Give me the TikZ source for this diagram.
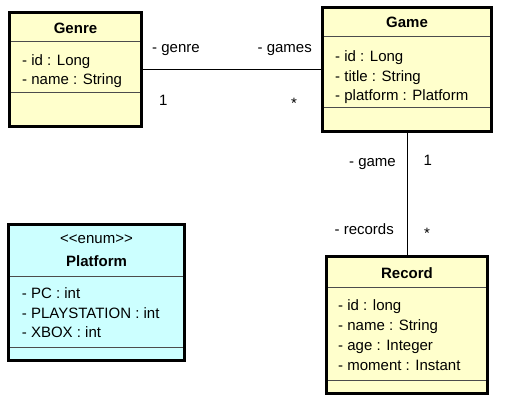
\documentclass[tikz,border=0pt]{standalone}
\usepackage{fontspec}
\setmainfont{Liberation Sans}
\definecolor{classyellow}{HTML}{FFFFCC}
\definecolor{enumcyan}{HTML}{CCFFFF}
\tikzset{
  classbox/.style={draw, line width=3pt, inner sep=0pt},
  sepline/.style={line width=1pt, black!70},
  attr/.style={anchor=base west, inner sep=0pt, font=\fontsize{15}{18}\selectfont},
  cname/.style={anchor=base, inner sep=0pt, font=\bfseries\fontsize{15}{18}\selectfont},
  rolel/.style={anchor=base east, inner sep=0pt, font=\fontsize{15}{18}\selectfont},
  roler/.style={anchor=base west, inner sep=0pt, font=\fontsize{15}{18}\selectfont},
  assoc/.style={line width=1pt},
}
\begin{document}
\begin{tikzpicture}[x=1pt,y=-1pt]
    \useasboundingbox (0,0) rectangle (505,406);
    % classes
    \node [classbox, fill=classyellow, minimum width=132pt, minimum height=114pt] (genre) at (75.5,69.5) {};
    \node [classbox, fill=classyellow, minimum width=169pt, minimum height=124pt] (game) at (407,69.5) {};
    \node [classbox, fill=classyellow, minimum width=161pt, minimum height=137pt] (record) at (407,325) {};
    \node [classbox, fill=enumcyan, minimum width=176pt, minimum height=136.5pt] (platform) at (96.5,292.25) {};
    % compartments
    \draw [sepline] (11,42) -- (140,42);
    \draw [sepline] (11,93) -- (140,93);
    \draw [sepline] (324,37) -- (490,37);
    \draw [sepline] (324,108) -- (490,108);
    \draw [sepline] (328,287) -- (486,287);
    \draw [sepline] (328,380) -- (486,380);
    \draw [sepline] (10,276) -- (183,276);
    \draw [sepline] (10,347) -- (183,347);
    % redraw borders on top
    \draw [line width=3pt] (genre.north west) ++(1.5,1.5) rectangle ([xshift=-1.5pt,yshift=1.5pt]genre.south east);
    \draw [line width=3pt] (game.north west) ++(1.5,1.5) rectangle ([xshift=-1.5pt,yshift=1.5pt]game.south east);
    \draw [line width=3pt] (record.north west) ++(1.5,1.5) rectangle ([xshift=-1.5pt,yshift=1.5pt]record.south east);
    \draw [line width=3pt] (platform.north west) ++(1.5,1.5) rectangle ([xshift=-1.5pt,yshift=1.5pt]platform.south east);
    % Genre
    \node [cname] (genretitle) at (75.5,33.5) {Genre};
    \node [attr] (genreid) at (22,65.5) {- id : Long};
    \node [attr] (genrename) at (22,84.5) {- name : String};
    % Game
    \node [cname] (gametitle) at (407,27.5) {Game};
    \node [attr] (gameid) at (335,61.5) {- id : Long};
    \node [attr] (gametitle) at (335,81.5) {- title : String};
    \node [attr] (gameplatform) at (335,101) {- platform : Platform};
    % Record
    \node [cname] (recordtitle) at (407,278.3) {Record};
    \node [attr] (recordid) at (338,310.7) {- id : long};
    \node [attr] (recordname) at (338,330.5) {- name : String};
    \node [attr] (recordage) at (338,350.3) {- age : Integer};
    \node [attr] (recordmoment) at (338,370) {- moment : Instant};
    % Platform
    \node [cname, font=\fontsize{15}{18}\selectfont] (platformstereo) at (96.5,243.3) {\symbol{60}\symbol{60}enum\symbol{62}\symbol{62}};
    \node [cname] (platformtitle) at (96.5,266.7) {Platform};
    \node [attr] (platformpc) at (21.7,298.3) {- PC : int};
    \node [attr] (platformps) at (21.7,318) {- PLAYSTATION : int};
    \node [attr] (platformxbox) at (21.7,337.7) {- XBOX : int};
    % associations
    \draw [assoc] (genre) -- (game);
    \draw [assoc] (game) -- (record);
    \node [roler] (genrerole) at (152,52.7) {- genre};
    \node [roler] (genremult) at (159,106) {1};
    \node [rolel] (gamesrole) at (312,52.7) {- games};
    \node [roler] (gamesmult) at (291,109) {*};
    \node [rolel] (gamerole) at (396,166) {- game};
    \node [roler] (gamemult) at (423.5,165.5) {1};
    \node [rolel] (recordsrole) at (394,234) {- records};
    \node [roler] (recordsmult) at (424,238.5) {*};
\end{tikzpicture}
\end{document}
